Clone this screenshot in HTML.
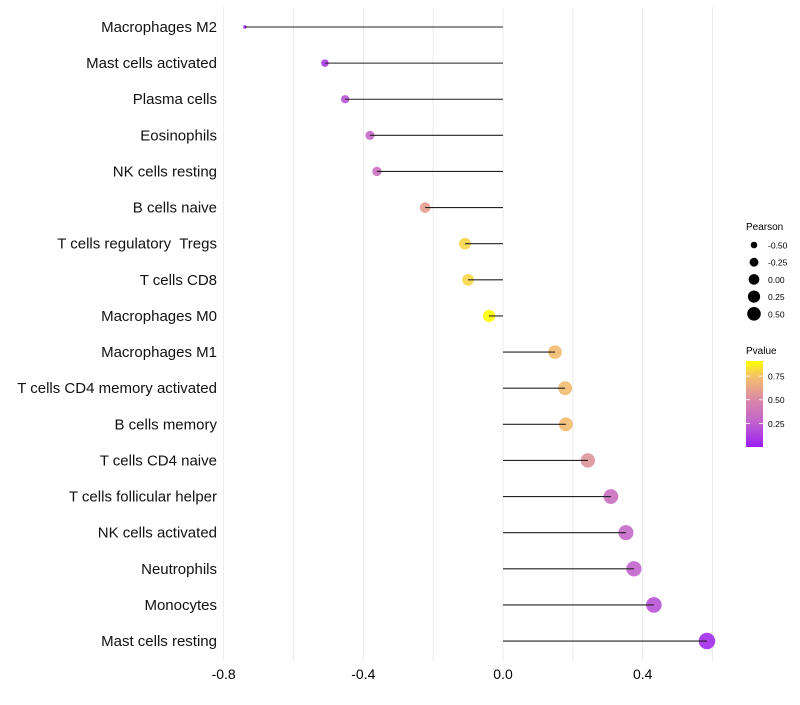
<!DOCTYPE html>
<html><head><meta charset="utf-8"><style>
body{margin:0;background:#fff;font-family:"Liberation Sans",sans-serif;}
text{white-space:pre;}
</style></head><body>
<svg id="chart" width="800" height="700" xmlns="http://www.w3.org/2000/svg" font-family="Liberation Sans, sans-serif"></svg>
<script>
const categories=["Macrophages M2","Mast cells activated","Plasma cells","Eosinophils","NK cells resting","B cells naive","T cells regulatory  Tregs","T cells CD8","Macrophages M0","Macrophages M1","T cells CD4 memory activated","B cells memory","T cells CD4 naive","T cells follicular helper","NK cells activated","Neutrophils","Monocytes","Mast cells resting"];
const pearson=[-0.739,-0.51,-0.452,-0.381,-0.361,-0.223,-0.109,-0.1,-0.04,0.149,0.178,0.18,0.243,0.309,0.352,0.375,0.432,0.584];
const pvalue=[0.01,0.1,0.2,0.3,0.35,0.6,0.8,0.8,0.9,0.72,0.72,0.72,0.55,0.35,0.3,0.27,0.2,0.05];
const xTicks=[-0.8,-0.4,0.0,0.4];
const xTickLabels=["-0.8","-0.4","0.0","0.4"];
const sizeLegend=[-0.5,-0.25,0,0.25,0.5];
const sizeLegendLabels=["-0.50","-0.25","0.00","0.25","0.50"];
const pTicks=[0.25,0.5,0.75];

const svg=document.getElementById('chart');
const NS="http://www.w3.org/2000/svg";
function el(t,a,p){const e=document.createElementNS(NS,t);for(const k in a)e.setAttribute(k,a[k]);(p||svg).appendChild(e);return e;}
const x=v=>503+v*349.2;
const y=i=>27+i*36.12;
const r=v=>Math.sqrt(Math.max(0.5,28.45+35.4*v));
const rd=v=>1.18*r(v);
const stops=[[0,[154,30,240]],[0.25,[192,96,208]],[0.5,[218,136,168]],[0.75,[245,194,104]],[0.91,[255,255,0]]];
function col(p){for(let i=1;i<stops.length;i++){if(p<=stops[i][0]||i==stops.length-1){const a=stops[i-1],b=stops[i];let t=(p-a[0])/(b[0]-a[0]);t=Math.max(0,Math.min(1,t));const c=a[1].map((v,k)=>Math.round(v+(b[1][k]-v)*t));return `rgb(${c})`;}}}

for(let g=-0.8;g<=0.61;g+=0.2){const gl=el('line',{x1:x(g),x2:x(g),y1:7,y2:661,stroke:'#ebebeb','stroke-width':1});

}
xTicks.forEach((t,i)=>{const tx=el('text',{x:x(t),y:679,'text-anchor':'middle','font-size':14,fill:'#000'});tx.textContent=xTickLabels[i];

});
categories.forEach((c,i)=>{
 const lb=el('text',{x:217,y:y(i)+5,'text-anchor':'end','font-size':15,fill:'#111'});lb.textContent=c;
 
 
 const pt=el('circle',{cx:x(pearson[i]),cy:y(i),r:rd(pearson[i]),fill:col(pvalue[i]),'fill-opacity':0.9});
 
 
 const ln=el('line',{x1:x(0),x2:x(pearson[i]),y1:y(i),y2:y(i),stroke:'#222','stroke-width':1.1});
 
 
});
const lt=el('text',{x:746,y:230,'font-size':10,fill:'#000'});lt.textContent='Pearson';


sizeLegend.forEach((v,i)=>{const cy=245+i*17.2;
 const c=el('circle',{cx:754,cy:cy,r:r(v),fill:'#000'});
 
 
 const t=el('text',{x:768,y:cy+3.5,'font-size':8.5,fill:'#000'});t.textContent=sizeLegendLabels[i];
 
 });
const pt2=el('text',{x:746,y:354,'font-size':10,fill:'#000'});pt2.textContent='Pvalue';


const defs=el('defs',{});const lg=el('linearGradient',{id:'pg',x1:0,y1:1,x2:0,y2:0},defs);
stops.forEach(s=>el('stop',{offset:s[0]/0.91,'stop-color':`rgb(${s[1]})`},lg));
const bar=el('rect',{x:746,y:361,width:17,height:86,fill:'url(#pg)'});


pTicks.forEach(p=>{const yy=447-p/0.91*86;
 el('line',{x1:746,x2:750,y1:yy,y2:yy,stroke:'#fff','stroke-width':0.8});
 el('line',{x1:759,x2:763,y1:yy,y2:yy,stroke:'#fff','stroke-width':0.8});
 const t=el('text',{x:768,y:yy+3.5,'font-size':8.5,fill:'#000'});t.textContent=p.toFixed(2);
 
 });
</script>
</body></html>
